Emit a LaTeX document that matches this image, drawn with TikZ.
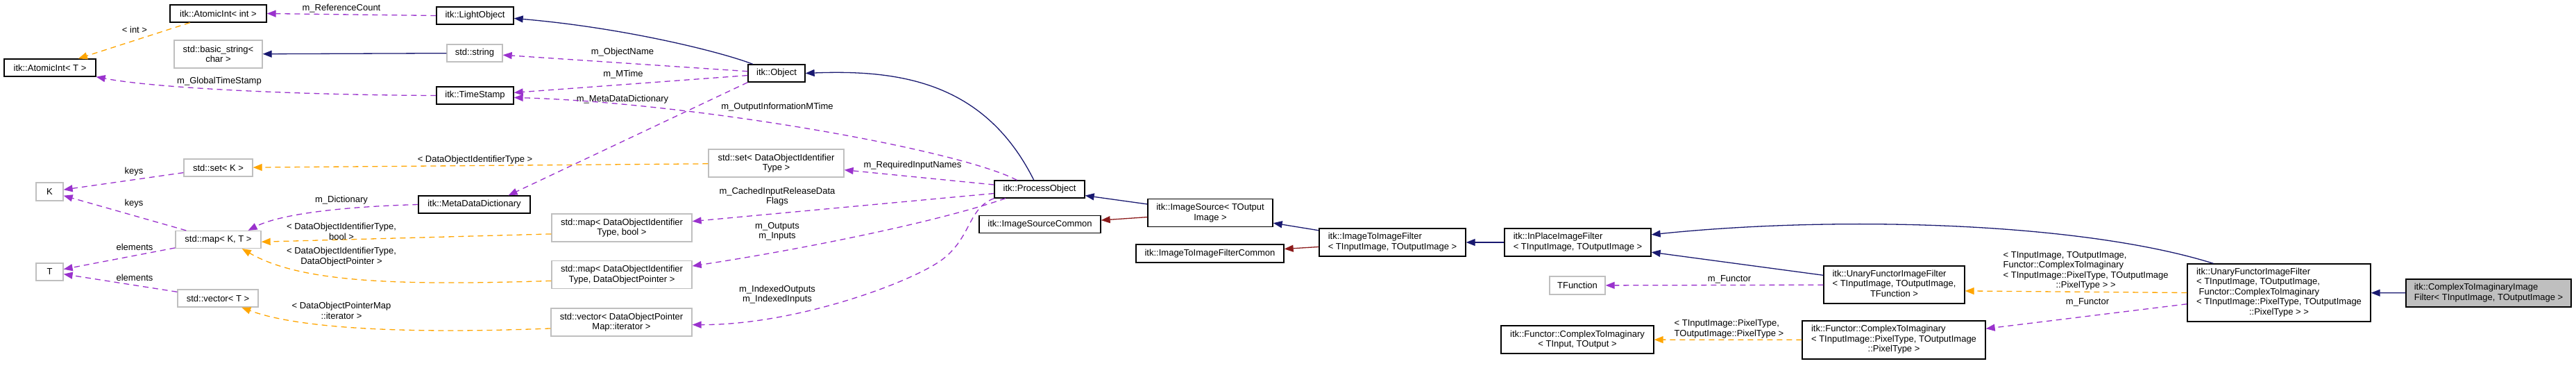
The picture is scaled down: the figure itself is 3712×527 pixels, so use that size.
\documentclass[tikz,border=0pt]{standalone}
\usepackage{fontspec}
\setmainfont{Liberation Sans}
\usepackage{tikz}
\usetikzlibrary{arrows.meta}
\definecolor{edgeblue}{HTML}{191970}
\definecolor{edgered}{HTML}{8B1A1A}
\definecolor{edgepurple}{HTML}{9A32CD}
\definecolor{edgeorange}{HTML}{FFA500}
\definecolor{boxgrey}{HTML}{BFBFBF}
\newcommand{\ltab}[1]{\begin{tabular}{@{}l@{}}#1\end{tabular}}
\newcommand{\cenrow}[1]{\multicolumn{1}{@{}c@{}}{#1}}

\begin{document}
\begin{tikzpicture}[x=1pt,y=-1pt,font=\fontsize{13}{14.5}\selectfont,
  cls/.style={draw=black,line width=1.3pt,fill=white,inner sep=0pt},
  ext/.style={cls,draw=boxgrey},
  focus/.style={cls,fill=boxgrey},
  lbl/.style={inner sep=0pt,align=center},
  headtip/.style={-{Triangle[length=13pt,width=10pt]}},
  inh/.style={headtip,draw=edgeblue,line width=1.3pt},
  privinh/.style={inh,draw=edgered},
  member/.style={headtip,draw=edgepurple,line width=1.3pt,dash pattern=on 8pt off 6pt},
  tmpl/.style={member,draw=edgeorange}]
  \useasboundingbox (0,0) rectangle (3712,527);

  % left column
  \node[cls,minimum width=139,minimum height=25] (AtomIntInt) at (314.5,19.5) {itk::AtomicInt< int >};
  \node[cls,minimum width=132,minimum height=25] (AtomIntT) at (72,97.5) {itk::AtomicInt< T >};
  \node[ext,minimum width=127,minimum height=40,align=center] (BasicStr) at (314.5,78) {std::basic\_string<\\char >};
  \node[ext,minimum width=39,minimum height=26] (KNode) at (71.5,276) {K};
  \node[ext,minimum width=39,minimum height=25] (TNode) at (71.5,391.5) {T};
  \node[ext,minimum width=99,minimum height=25] (SetK) at (314.5,241.5) {std::set< K >};
  \node[ext,minimum width=123,minimum height=25] (MapKT) at (314.5,345) {std::map< K, T >};
  \node[ext,minimum width=116,minimum height=25] (VecT) at (314,429.5) {std::vector< T >};

  \node[cls,minimum width=111,minimum height=25] (LightObj) at (684.5,22.5) {itk::LightObject};
  \node[ext,minimum width=80,minimum height=25] (StdStr) at (684,76.5) {std::string};
  \node[cls,minimum width=111,minimum height=25] (TimeSt) at (684.5,137.5) {itk::TimeStamp};
  \node[cls,minimum width=161,minimum height=25] (MetaDict) at (683.5,294.5) {itk::MetaDataDictionary};

  % middle
  \node[cls,minimum width=82,minimum height=25] (Obj) at (1119,105.5) {itk::Object};
  \node[ext,minimum width=195,minimum height=40,align=center] (SetDOI) at (1118.5,235) {std::set< DataObjectIdentifier\\Type >};
  \node[ext,minimum width=202,minimum height=40,align=center] (MapBool) at (896,328) {std::map< DataObjectIdentifier\\Type, bool >};
  \node[ext,minimum width=202,minimum height=40,align=center] (MapPtr) at (896,395.5) {std::map< DataObjectIdentifier\\Type, DataObjectPointer >};
  \node[ext,minimum width=203,minimum height=40,align=center] (VecIt) at (895.5,464) {std::vector< DataObjectPointer\\Map::iterator >};
  \node[cls,minimum width=130,minimum height=25] (ProcObj) at (1498,272.5) {itk::ProcessObject};
  \node[cls,minimum width=175,minimum height=25] (ISCommon) at (1498.5,323) {itk::ImageSourceCommon};
  \node[cls,minimum width=180,minimum height=40,align=center] (ImgSrc) at (1744,306.5) {itk::ImageSource< TOutput\\Image >};
  \node[cls,minimum width=213,minimum height=26] (ITIFCommon) at (1743.5,365) {itk::ImageToImageFilterCommon};

  % right part
  \node[cls,minimum width=211,minimum height=40] (ITIF) at (2006.5,349) {\ltab{itk::ImageToImageFilter\\< TInputImage, TOutputImage >}};
  \node[cls,minimum width=211,minimum height=40] (InPlace) at (2273.5,349) {\ltab{itk::InPlaceImageFilter\\< TInputImage, TOutputImage >}};
  \node[ext,minimum width=80,minimum height=26] (TFunc) at (2273,411) {TFunction};
  \node[cls,minimum width=220,minimum height=40,align=center] (FunctorTIO) at (2273,489) {itk::Functor::ComplexToImaginary\\< TInput, TOutput >};
  \node[cls,minimum width=203,minimum height=54] (UnaryTF) at (2729.5,410) {\ltab{itk::UnaryFunctorImageFilter\\< TInputImage, TOutputImage,\\\cenrow{TFunction >}}};
  \node[cls,minimum width=264,minimum height=55] (FunctorPix) at (2729,489.5) {\ltab{itk::Functor::ComplexToImaginary\\< TInputImage::PixelType, TOutputImage\\\cenrow{::PixelType >}}};
  \node[cls,minimum width=264,minimum height=83] (BigUnary) at (3284,421.5) {\ltab{itk::UnaryFunctorImageFilter\\< TInputImage, TOutputImage,\\\ Functor::ComplexToImaginary\\< TInputImage::PixelType, TOutputImage\\\cenrow{::PixelType > >}}};
  \node[focus,minimum width=238,minimum height=40] (Focus) at (3586,422) {\ltab{itk::ComplexToImaginaryImage\\Filter< TInputImage, TOutputImage >}};

  % inheritance
  \draw[inh] (StdStr) -- (BasicStr);
  \draw[inh] (Obj.159) .. controls (1040,75) and (900,40) .. (LightObj.-4);
  \draw[inh] (ProcObj.122) .. controls (1420,120) and (1300,100) .. (Obj.east);
  \draw[inh] (ImgSrc) -- (ProcObj);
  \draw[privinh] (ImgSrc) -- (ISCommon);
  \draw[inh] (ITIF) -- (ImgSrc);
  \draw[privinh] (ITIF) -- (ITIFCommon);
  \draw[inh] (InPlace) -- (ITIF);
  \draw[inh] (BigUnary.156) .. controls (3000,320) and (2650,310) .. (InPlace.6);
  \draw[inh] (UnaryTF) -- (InPlace);
  \draw[inh] (Focus) -- (BigUnary);

  % members and templates
  \draw[member] (LightObj.west) -- (AtomIntInt.east) node[lbl] (tRef) at (492,12) {m\_ReferenceCount};
  \draw[tmpl] (AtomIntInt) -- (AtomIntT) node[lbl] (tInt) at (194,43) {< int >};
  \draw[member] (TimeSt.west) .. controls (450,137) and (230,128) .. (AtomIntT.south east) node[lbl] (tGlob) at (316,117) {m\_GlobalTimeStamp};
  \draw[member] (Obj) -- (StdStr) node[lbl] (tName) at (897,75) {m\_ObjectName};
  \draw[member] (Obj) -- (TimeSt) node[lbl] (tMTime) at (898,107) {m\_MTime};
  \draw[member] (Obj.south west) -- (MetaDict.15) node[lbl] (tMeta) at (897,143) {m\_MetaDataDictionary};
  \draw[member] (ProcObj.158) .. controls (1380,215) and (1000,148) .. (TimeSt.-3) node[lbl] (tOutInfo) at (1120,154) {m\_OutputInformationMTime};
  \draw[member] (ProcObj) -- (SetDOI) node[lbl] (tReq) at (1315,238) {m\_RequiredInputNames};
  \draw[member] (ProcObj) -- (MapBool) node[lbl] (tCache) at (1120,283) {m\_CachedInputReleaseData\\Flags};
  \draw[member] (ProcObj.195) .. controls (1350,320) and (1150,360) .. (MapPtr.7) node[lbl] (tOut) at (1120,333.5) {m\_Outputs\\m\_Inputs};
  \draw[member] (ProcObj.south west) .. controls (1395,300) and (1400,340) .. (1360,372)
    .. controls (1320,404) and (1150,468) .. (VecIt.-2) node[lbl] (tIdx) at (1120,424) {m\_IndexedOutputs\\m\_IndexedInputs};
  \draw[member] (MetaDict.west) .. controls (480,298) and (400,310) .. (MapKT.17) node[lbl] (tDict) at (492,288) {m\_Dictionary};
  \draw[tmpl] (SetDOI) -- (SetK) node[lbl] (tDOI) at (684.5,230) {< DataObjectIdentifierType >};
  \draw[tmpl] (MapBool.185) -- (MapKT.-3) node[lbl] (tBool) at (492,333.5) {< DataObjectIdentifierType,\\bool >};
  \draw[tmpl] (MapPtr.185) .. controls (560,412) and (430,405) .. (MapKT.-21) node[lbl] (tPtr) at (492,369.5) {< DataObjectIdentifierType,\\DataObjectPointer >};
  \draw[tmpl] (VecIt.185) .. controls (560,482) and (420,470) .. (VecT.-21) node[lbl] (tIt) at (492,447.5) {< DataObjectPointerMap\\::iterator >};
  \draw[member] (SetK) -- (KNode) node[lbl] (tKeysA) at (193,247) {keys};
  \draw[member] (MapKT) -- (KNode) node[lbl] (tKeysB) at (193,293) {keys};
  \draw[member] (MapKT) -- (TNode) node[lbl] (tElA) at (194,356) {elements};
  \draw[member] (VecT) -- (TNode) node[lbl] (tElB) at (194,400) {elements};
  \draw[member] (UnaryTF) -- (TFunc) node[lbl] (tFunA) at (2492,402) {m\_Functor};
  \draw[tmpl] (BigUnary.west) -- (UnaryTF.-5) node[lbl,anchor=west] (tBig) at (2886,390)
    {\ltab{< TInputImage, TOutputImage,\\Functor::ComplexToImaginary\\< TInputImage::PixelType, TOutputImage\\\cenrow{::PixelType > >}}};
  \draw[member] (BigUnary) -- (FunctorPix) node[lbl] (tFunB) at (3008,435) {m\_Functor};
  \draw[tmpl] (FunctorPix) -- (FunctorTIO) node[lbl,anchor=west] (tPix) at (2412,474) {\ltab{< TInputImage::PixelType,\\TOutputImage::PixelType >}};
\end{tikzpicture}
\end{document}
